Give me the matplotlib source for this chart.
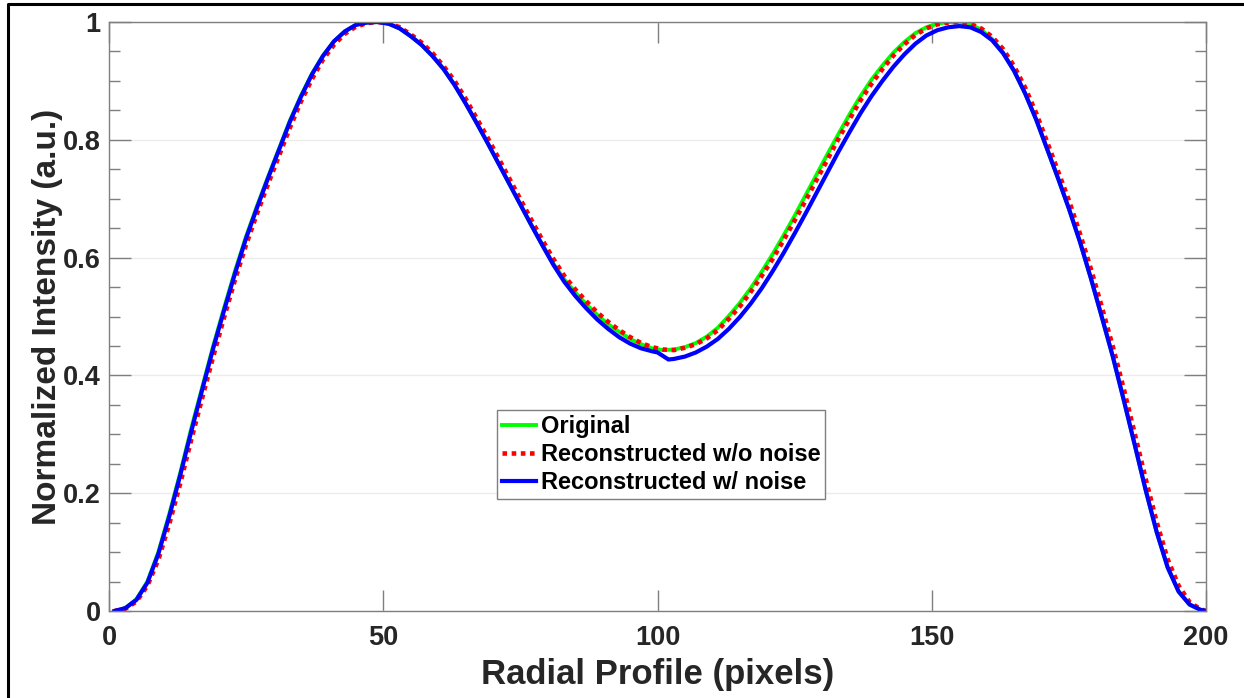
import matplotlib
matplotlib.use('Agg')
import matplotlib.pyplot as plt
from matplotlib.ticker import MultipleLocator, FuncFormatter
from matplotlib.lines import Line2D

# radial position (pixels)
x_pix = [1, 3, 5, 7, 9, 11, 13, 15, 17, 19, 21, 23, 25, 27, 29, 31, 33, 35, 37, 39,
         41, 43, 45, 47, 49, 51, 53, 55, 57, 59, 61, 63, 65, 67, 69, 71, 73, 75, 77, 79,
         81, 83, 85, 87, 89, 91, 93, 95, 97, 99, 101, 103, 105, 107, 109, 111, 113, 115, 117, 119,
         121, 123, 125, 127, 129, 131, 133, 135, 137, 139, 141, 143, 145, 147, 149, 151, 153, 155, 157, 159,
         161, 163, 165, 167, 169, 171, 173, 175, 177, 179, 181, 183, 185, 187, 189, 191, 193, 195, 197, 199, 200]

original = [0.0, 0.005, 0.02, 0.05, 0.10, 0.165, 0.235, 0.31, 0.38, 0.45,
            0.515, 0.578, 0.636, 0.688, 0.737, 0.785, 0.833, 0.875, 0.912, 0.943,
            0.967, 0.984, 0.995, 0.999, 1.0, 0.997, 0.989, 0.976, 0.961, 0.942,
            0.92, 0.893, 0.862, 0.829, 0.795, 0.76, 0.725, 0.69, 0.655, 0.622,
            0.59, 0.563, 0.541, 0.521, 0.503, 0.487, 0.474, 0.462, 0.453, 0.446,
            0.443, 0.444, 0.448, 0.455, 0.466, 0.481, 0.501, 0.523, 0.548, 0.576,
            0.606, 0.638, 0.671, 0.706, 0.741, 0.776, 0.81, 0.843, 0.874, 0.902,
            0.926, 0.948, 0.966, 0.981, 0.991, 0.997, 1.0, 0.999, 0.996, 0.987,
            0.971, 0.948, 0.917, 0.879, 0.835, 0.785, 0.735, 0.683, 0.627, 0.565,
            0.499, 0.432, 0.358, 0.282, 0.205, 0.134, 0.074, 0.033, 0.011, 0.002, 0.0]

recon_clean = [0.0, 0.004, 0.016, 0.043, 0.087, 0.148, 0.217, 0.291, 0.362, 0.432,
               0.499, 0.563, 0.622, 0.675, 0.725, 0.773, 0.821, 0.865, 0.903, 0.936,
               0.961, 0.98, 0.992, 0.998, 1.0, 0.998, 0.991, 0.979, 0.965, 0.947,
               0.925, 0.9, 0.87, 0.837, 0.804, 0.769, 0.734, 0.699, 0.664, 0.63,
               0.598, 0.569, 0.546, 0.526, 0.507, 0.491, 0.477, 0.465, 0.455, 0.448,
               0.444, 0.443, 0.447, 0.453, 0.463, 0.477, 0.496, 0.517, 0.542, 0.569,
               0.598, 0.63, 0.663, 0.697, 0.732, 0.767, 0.802, 0.835, 0.867, 0.895,
               0.92, 0.943, 0.962, 0.978, 0.989, 0.996, 0.999, 1.0, 0.997, 0.989,
               0.975, 0.954, 0.925, 0.889, 0.846, 0.797, 0.747, 0.697, 0.641, 0.581,
               0.516, 0.449, 0.377, 0.301, 0.224, 0.151, 0.088, 0.043, 0.015, 0.003, 0.0]

x_noise = [1, 3, 5, 7, 9, 11, 13, 15, 17, 19, 21, 23, 25, 27, 29, 31, 33, 35, 37, 39,
           41, 43, 45, 47, 49, 51, 53, 55, 57, 59, 61, 63, 65, 67, 69, 71, 73, 75, 77, 79,
           81, 83, 85, 87, 89, 91, 93, 95, 97, 99, 100, 101, 102, 103, 105, 107, 109, 111, 113, 115,
           117, 119, 121, 123, 125, 127, 129, 131, 133, 135, 137, 139, 141, 143, 145, 147, 149, 151, 153, 155,
           157, 159, 161, 163, 165, 167, 169, 171, 173, 175, 177, 179, 181, 183, 185, 187, 189, 191, 193, 195,
           197, 199, 200]

recon_noise = [0.0, 0.005, 0.019, 0.048, 0.097, 0.161, 0.231, 0.305, 0.376, 0.446,
               0.511, 0.574, 0.633, 0.685, 0.735, 0.783, 0.831, 0.873, 0.911, 0.942,
               0.967, 0.984, 0.995, 0.999, 1.0, 0.997, 0.989, 0.976, 0.961, 0.942,
               0.92, 0.893, 0.862, 0.829, 0.795, 0.76, 0.725, 0.69, 0.655, 0.621,
               0.588, 0.559, 0.535, 0.514, 0.495, 0.479, 0.465, 0.454, 0.446, 0.441,
               0.439, 0.433, 0.427, 0.428, 0.432, 0.439, 0.449, 0.462, 0.479, 0.499,
               0.522, 0.548, 0.577, 0.608, 0.641, 0.675, 0.71, 0.745, 0.78, 0.813,
               0.845, 0.874, 0.9, 0.924, 0.945, 0.963, 0.977, 0.986, 0.991, 0.993,
               0.991, 0.983, 0.969, 0.947, 0.917, 0.879, 0.835, 0.785, 0.735, 0.683,
               0.627, 0.565, 0.499, 0.432, 0.358, 0.282, 0.205, 0.134, 0.074, 0.033,
               0.011, 0.002, 0.0]

labels = ['Original', 'Reconstructed w/o noise', 'Reconstructed w/ noise']

plt.rcParams['font.family'] = ['Liberation Sans', 'DejaVu Sans']
plt.rcParams['font.weight'] = 'bold'

gray = '#7f7f7f'
txt = '#262626'

fig = plt.figure(figsize=(12.44, 6.98), dpi=100)
ax = fig.add_axes([0.0876, 0.1246, 0.8819, 0.8439])

ax.plot(x_pix, original, color='#00ff00', lw=2.8, label=labels[0])
ax.plot(x_pix, recon_clean, color='#ff0000', lw=3.3, linestyle=(0, (1, 1)), label=labels[1])
ax.plot(x_noise, recon_noise, color='#0000ff', lw=3.0, label=labels[2])

ax.set_xlim(0, 200)
ax.set_ylim(0, 1)
ax.xaxis.set_major_locator(MultipleLocator(50))
ax.yaxis.set_major_locator(MultipleLocator(0.2))
ax.yaxis.set_minor_locator(MultipleLocator(0.05))
ax.yaxis.set_major_formatter(FuncFormatter(lambda v, p: '%g' % round(v, 2)))

ax.yaxis.grid(True, which='major', color='#ebebeb', lw=1)
ax.set_axisbelow(True)

ax.tick_params(which='both', direction='in', top=True, right=True, color=gray,
               labelcolor=txt, labelsize=19.5, width=1)
ax.tick_params(axis='y', which='major', length=16, pad=6)
ax.tick_params(axis='x', which='major', length=15, pad=10)
ax.tick_params(axis='y', which='minor', length=8)
for lab in ax.get_xticklabels() + ax.get_yticklabels():
    lab.set_fontweight('bold')
for s in ax.spines.values():
    s.set_color(gray)
    s.set_linewidth(1)

ax.set_xlabel('Radial Profile (pixels)', fontsize=25, fontweight='bold', color=txt, labelpad=5)
ax.set_ylabel('Normalized Intensity (a.u.)', fontsize=24, fontweight='bold', color=txt, labelpad=0)

leg = ax.legend(loc='upper left', bbox_to_anchor=(0.3537, 0.341), fontsize=17,
                frameon=True, fancybox=False, framealpha=1, edgecolor=gray,
                handlelength=1.45, handletextpad=0.2, labelspacing=0.22,
                borderpad=0.2, borderaxespad=0)
leg.get_frame().set_linewidth(1)
for t in leg.get_texts():
    t.set_color('black')
    t.set_fontweight('bold')

# black frame around the figure (left and top edges)
fig.add_artist(Line2D([8 / 1244, 8 / 1244, 1.0], [0.0, 1 - 4 / 698, 1 - 4 / 698],
                      transform=fig.transFigure, color='black', lw=2.2))

fig.savefig('out.png', dpi=100)
